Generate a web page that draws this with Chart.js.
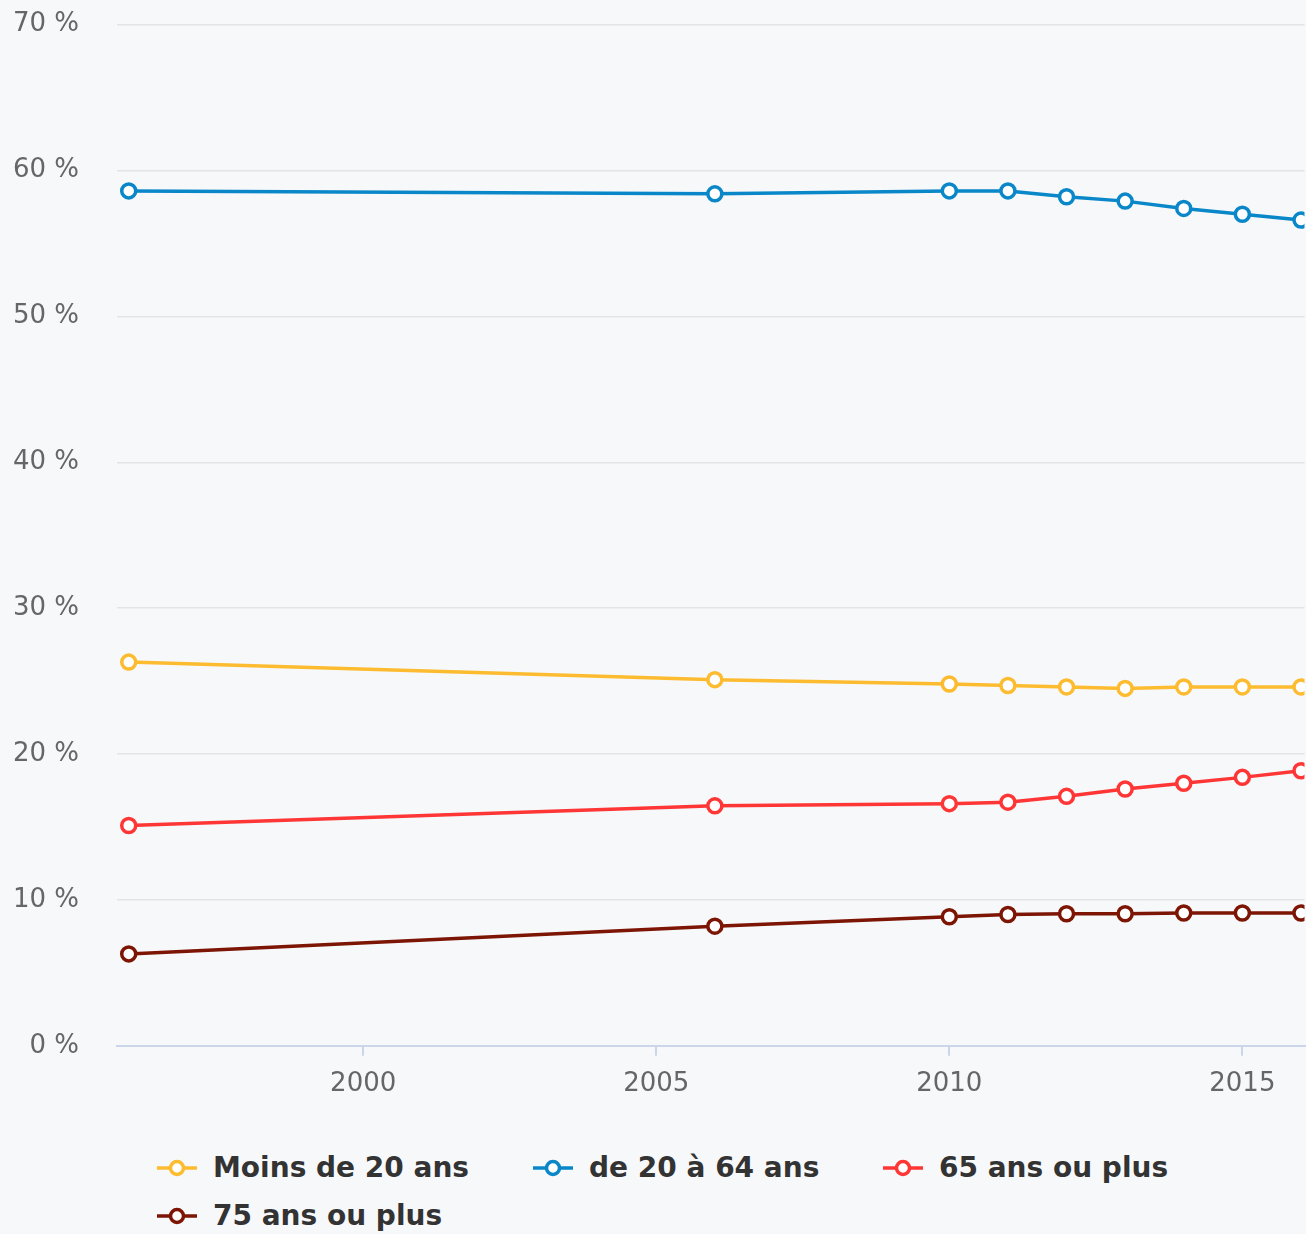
<!DOCTYPE html>
<html>
<head>
<meta charset="utf-8">
<script src="https://cdn.jsdelivr.net/npm/chart.js@4"></script>
<style>
    html, body { margin: 0; padding: 0; background: #f7f8fa; }
    #wrap { position: relative; width: 1306px; height: 1234px; overflow: hidden; }
    #box { position: absolute; left: 0; top: -29px; }
    #legend { position: absolute; left: 157px; top: 1146px; width: 1150px;
        font-family: "DejaVu Sans", sans-serif; font-weight: bold; font-size: 28px; color: #333; }
    .item { position: absolute; white-space: nowrap; line-height: 44px; }
    .item canvas { vertical-align: middle; margin-right: 16px; position: relative; top: -1px; }
</style>
</head>
<body>
<div id="wrap">
    <div id="box"><canvas id="myChart" width="1315" height="1142"></canvas></div>
    <div id="legend"></div>
</div>
<script>
// data
var years = [1996, 2006, 2010, 2011, 2012, 2013, 2014, 2015, 2016];
var moins20 = [26.3, 25.1, 24.8, 24.7, 24.6, 24.5, 24.6, 24.6, 24.6];
var de20a64 = [58.6, 58.4, 58.6, 58.6, 58.2, 57.9, 57.4, 57.0, 56.6];
var plus65 = [15.1, 16.45, 16.6, 16.7, 17.1, 17.6, 18.0, 18.4, 18.85];
var plus75 = [6.3, 8.2, 8.85, 9.0, 9.05, 9.05, 9.1, 9.1, 9.1];
var yTicks = [0, 10, 20, 30, 40, 50, 60, 70];
var xTicks = [2000, 2005, 2010, 2015];

var series = [
    { label: "Moins de 20 ans", values: moins20, color: "#fdbb30" },
    { label: "de 20 à 64 ans", values: de20a64, color: "#0a87c8" },
    { label: "65 ans ou plus", values: plus65, color: "#ff3636" },
    { label: "75 ans ou plus", values: plus75, color: "#7d1505" }
];

function pts(vals) {
    var out = [];
    for (var i = 0; i < years.length; i++) {
        out.push({ x: years[i], y: vals[i] });
    }
    return out;
}

var datasets = [];
for (var s = 0; s < series.length; s++) {
    datasets.push({
        label: series[s].label,
        data: pts(series[s].values),
        borderColor: series[s].color,
        backgroundColor: "#ffffff",
        borderWidth: 3.5,
        pointRadius: 7,
        pointBorderWidth: 3.5,
        pointBackgroundColor: "#ffffff",
        tension: 0
    });
}

var tickFont = { family: "'DejaVu Sans', sans-serif", size: 26 };

var ctx = document.getElementById("myChart");
var chart = new Chart(ctx, {
    type: "line",
    data: { datasets: datasets },
    options: {
        responsive: false,
        animation: false,
        layout: { padding: { top: 0, right: 0, bottom: 0, left: 0 } },
        plugins: { legend: { display: false }, tooltip: { enabled: false } },
        scales: {
            x: {
                type: "linear",
                min: 1995.80,
                max: 2016.06,
                afterBuildTicks: function(axis) {
                    axis.ticks = xTicks.map(function(v) { return { value: v }; });
                },
                ticks: { font: tickFont, color: "#666666", padding: 13, maxRotation: 0,
                    callback: function(v) { return String(v); } },
                grid: { drawOnChartArea: false, drawTicks: true, tickLength: 10, color: "#ccd6eb", lineWidth: 2 },
                border: { color: "#ccd6eb", width: 2 }
            },
            y: {
                min: 0,
                max: 70,
                afterBuildTicks: function(axis) {
                    axis.ticks = yTicks.map(function(v) { return { value: v }; });
                },
                afterFit: function(axis) { axis.width = 117; },
                ticks: { font: tickFont, color: "#666666", padding: 38,
                    callback: function(v) { return v + " %"; } },
                grid: { color: "#e3e4e6", lineWidth: 1.5, drawTicks: false },
                border: { display: false }
            }
        }
    }
});

// legend
var legend = document.getElementById("legend");
var spots = [[0, 0], [376, 0], [726, 0], [0, 48]];
for (var j = 0; j < series.length; j++) {
    var item = document.createElement("div");
    item.className = "item";
    item.style.left = spots[j][0] + "px";
    item.style.top = spots[j][1] + "px";
    var c = document.createElement("canvas");
    c.width = 40; c.height = 20;
    var g = c.getContext("2d");
    g.strokeStyle = series[j].color;
    g.lineWidth = 3.5;
    g.beginPath(); g.moveTo(0, 10); g.lineTo(40, 10); g.stroke();
    g.beginPath(); g.arc(20, 10, 6.5, 0, Math.PI * 2);
    g.fillStyle = "#ffffff"; g.fill(); g.stroke();
    item.appendChild(c);
    item.appendChild(document.createTextNode(series[j].label));
    legend.appendChild(item);
}
</script>
</body>
</html>
